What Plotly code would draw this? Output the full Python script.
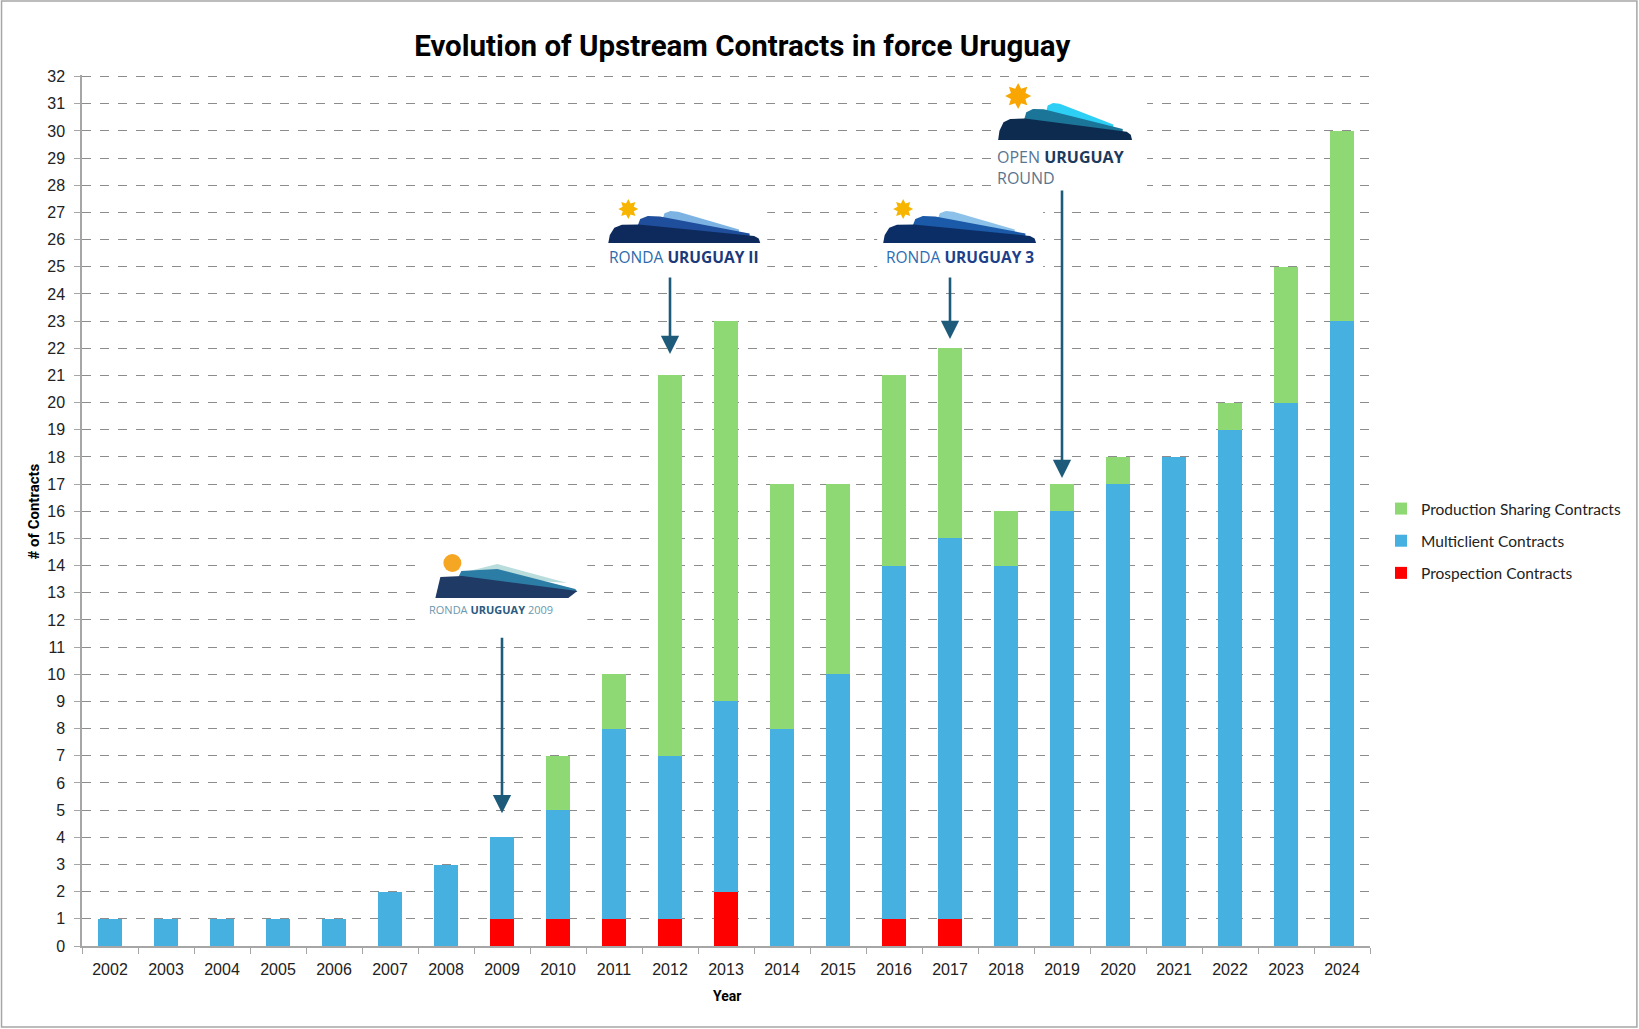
import math
import plotly.graph_objects as go

years = [str(y) for y in range(2002, 2025)]
prospection = [0, 0, 0, 0, 0, 0, 0, 1, 1, 1, 1, 2, 0, 0, 1, 1, 0, 0, 0, 0, 0, 0, 0]
multiclient = [1, 1, 1, 1, 1, 2, 3, 3, 4, 7, 6, 7, 8, 10, 13, 14, 14, 16, 17, 18, 19, 20, 23]
production_sharing = [0, 0, 0, 0, 0, 0, 0, 0, 2, 2, 14, 14, 9, 7, 7, 7, 2, 1, 1, 0, 1, 5, 7]

# arrows pointing at the licensing rounds: (year, value at head, length in px)
round_arrows = [("2009", 4.89, 177), ("2012", 21.79, 78), ("2017", 22.34, 63), ("2019", 17.23, 289)]

W, H = 1639, 1029
L, R, T, B = 81.5, 1370, 75, 946


def px(x):
    return (x - L) / (R - L)


def py(y):
    return (B - y) / (B - T)


def poly(points, color):
    d = "M " + " L ".join(f"{px(x):.5f},{py(y):.5f}" for x, y in points) + " Z"
    return dict(type="path", xref="paper", yref="paper", path=d,
                fillcolor=color, line=dict(width=0), layer="above")


def star(cx, cy, r, color, n=8):
    pts = []
    for i in range(2 * n):
        rr = r if i % 2 == 0 else r * 0.6
        a = math.pi * i / n - math.pi / 2
        pts.append((cx + rr * math.cos(a), cy + rr * math.sin(a)))
    return poly(pts, color)


def box(x0, y0, x1, y1):
    return dict(type="rect", xref="paper", yref="paper", x0=px(x0), x1=px(x1),
                y0=py(y1), y1=py(y0), fillcolor="white", line=dict(width=0), layer="above")


def hills(x0, x1, yb, h, colors):
    w = x1 - x0
    def tr(pts):
        return [(x0 + u * w, yb - v * h) for u, v in pts]
    light = [(0.34, 0.5), (0.37, 0.93), (0.41, 1.0), (0.46, 0.98), (0.86, 0.42), (0.86, 0.3), (0.34, 0.3)]
    mid = [(0.19, 0.5), (0.21, 0.75), (0.26, 0.84), (0.34, 0.83), (0.93, 0.3), (0.93, 0.1), (0.19, 0.1)]
    dark = [(0.0, 0.0), (0.01, 0.25), (0.04, 0.48), (0.09, 0.57), (0.2, 0.58), (0.96, 0.22),
            (0.99, 0.14), (1.0, 0.0)]
    return [poly(tr(light), colors[2]), poly(tr(mid), colors[1]), poly(tr(dark), colors[0])]


def label(x, y, text, size, anchor="center"):
    return dict(xref="paper", yref="paper", x=px(x), y=py(y), xanchor=anchor, yanchor="middle",
                showarrow=False, text=text, font=dict(family="Open Sans", size=size))


shapes = []
annotations = []

# white boxes behind logos
shapes += [box(423, 547, 587, 627), box(601, 188, 767, 270), box(877, 188, 1043, 270),
           box(991, 80, 1147, 190)]

# Ronda Uruguay 2009
shapes.append(dict(type="circle", xref="paper", yref="paper", x0=px(443), x1=px(461),
                   y0=py(572), y1=py(554), fillcolor="#F5A623", line=dict(width=0), layer="above"))
shapes.append(poly([(465, 572), (497, 564), (567, 583), (540, 581)], "#B9DCDC"))
shapes.append(poly([(458, 577), (461, 571), (497, 569), (575, 589), (577, 592)], "#2C7DA6"))
shapes.append(poly([(435, 598), (440, 577), (462, 576), (577, 591), (568, 598)], "#1F3A64"))
annotations.append(label(491, 609,
                         "<span style='color:#6A98AE'>RONDA </span><b><span style='color:#2A5A80'>URUGUAY</span></b>"
                         "<span style='color:#6A98AE'> 2009</span>", 11))

# Ronda Uruguay II
shapes += hills(608, 760, 243, 32, ["#0E2A5C", "#1F4F9C", "#7DB3E2"])
shapes.append(star(628, 209, 10, "#F7B500"))
annotations.append(label(684, 257,
                         "<span style='color:#2D6CAA'>RONDA </span><b><span style='color:#1B3A7A'>URUGUAY II</span></b>", 15.5))

# Ronda Uruguay 3
shapes += hills(883, 1036, 243, 32, ["#0B2E66", "#1B5AA8", "#8CC2EA"])
shapes.append(star(903, 209, 10, "#F7B500"))
annotations.append(label(960, 257,
                         "<span style='color:#2E6DB4'>RONDA </span><b><span style='color:#1E3F8A'>URUGUAY 3</span></b>", 15.5))

# Open Uruguay Round
shapes += hills(998, 1132, 140, 37, ["#0D2B4E", "#1A7599", "#2ECFF5"])
shapes.append(star(1018, 96, 13, "#F9A602"))
annotations.append(label(995, 157,
                         "<span style='color:#5A7590'>OPEN </span><b><span style='color:#1C3A5C'>URUGUAY</span></b>",
                         16, "left"))
annotations.append(label(995, 178, "<span style='color:#5A7590'>ROUND</span>", 16, "left"))

for yr, val, length in round_arrows:
    annotations.append(dict(x=years.index(yr), y=val, xref="x", yref="y", ax=0, ay=-length, text="",
                            showarrow=True, arrowhead=2, arrowsize=1.4, arrowwidth=2.6,
                            arrowcolor="#1E5B7A"))

# axis titles
annotations.append(dict(xref="paper", yref="paper", x=px(33), y=py(512), textangle=-90, showarrow=False,
                        xanchor="center", yanchor="middle", text="<b># of Contracts</b>",
                        font=dict(family="Roboto", size=15, color="#000")))
annotations.append(dict(xref="paper", yref="paper", x=px(727), y=py(996), showarrow=False,
                        xanchor="center", yanchor="middle", text="<b>Year</b>",
                        font=dict(family="Roboto", size=14, color="#000")))

# outer border
shapes.append(dict(type="rect", xref="paper", yref="paper", x0=px(1), x1=px(1637),
                   y0=py(1027), y1=py(1), line=dict(color="#A6A6A6", width=1.5), layer="above"))

fig = go.Figure()
fig.add_bar(x=years, y=prospection, name="Prospection Contracts", marker_color="#FF0000",
            legendgroup="a", legendrank=3)
fig.add_bar(x=years, y=multiclient, name="Multiclient Contracts", marker_color="#46B0E1",
            legendgroup="b", legendrank=2)
fig.add_bar(x=years, y=production_sharing, name="Production Sharing Contracts", marker_color="#8ED973",
            legendgroup="c", legendrank=1)

fig.update_traces(marker_line_width=0)

fig.update_layout(
    width=W,
    height=H,
    barmode="stack",
    bargap=0.57,
    plot_bgcolor="white",
    paper_bgcolor="white",
    margin=dict(l=L, r=W - R, t=T, b=H - B, autoexpand=False),
    title=dict(text="<b>Evolution of Upstream Contracts in force Uruguay</b>",
               x=px(742), xref="paper", xanchor="center", y=1 - 46 / H, yanchor="middle",
               font=dict(family="Roboto", size=29.5, color="#000")),
    legend=dict(x=px(1381), y=py(541), xanchor="left", yanchor="middle",
                traceorder="grouped", tracegroupgap=9,
                font=dict(family="Lato", size=15.5, color="#222")),
    shapes=shapes,
    annotations=annotations,
    font=dict(family="Liberation Sans", color="#222"),
)

fig.update_xaxes(type="category", range=[-0.5, len(years) - 0.5], showline=True,
                 linecolor="#A6A6A6", linewidth=1.5,
                 ticks="outside", tickson="boundaries", ticklen=6, tickcolor="#A6A6A6",
                 ticklabelstandoff=8,
                 tickfont=dict(family="Liberation Sans", size=16, color="#222"), showgrid=False)
fig.update_yaxes(range=[0, 32.06], dtick=1, showline=True, linecolor="#A6A6A6", linewidth=1.5,
                 ticks="outside", ticklen=6, tickcolor="#A6A6A6", ticklabelstandoff=6,
                 tickfont=dict(family="Liberation Sans", size=16, color="#222"),
                 showgrid=True, gridcolor="#8C8C8C", griddash="dash", gridwidth=1, zeroline=False)

fig.write_html("out.html", config={"displayModeBar": False},
               post_script="document.body.style.margin='0';")
